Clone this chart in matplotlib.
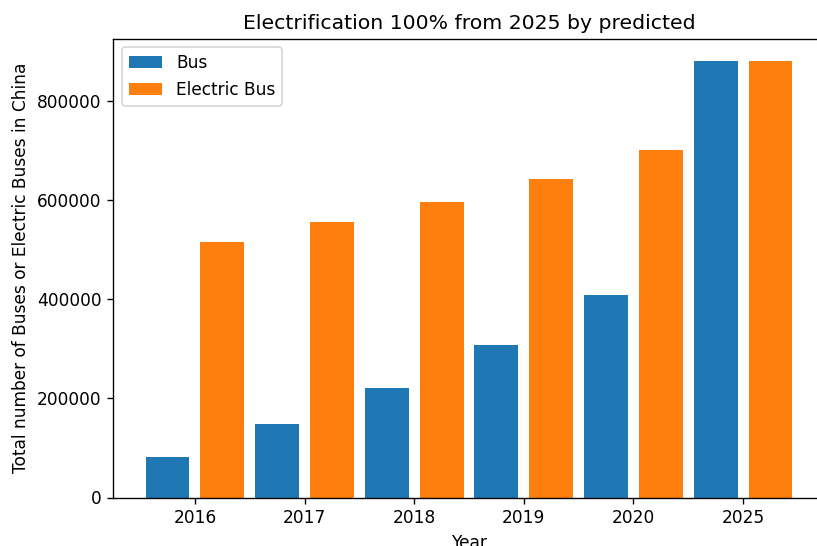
import numpy as np
import matplotlib
matplotlib.use("Agg")
import matplotlib.pyplot as plt

years = ["2016", "2017", "2018", "2019", "2020", "2025"]
bus = [82000, 148000, 221000, 309000, 410000, 882000]
electric_bus = [516000, 556000, 596000, 643000, 701000, 882000]

DPI = 122
W, H = 817, 546
fig = plt.figure(figsize=(W / DPI, H / DPI), dpi=DPI)
ax = fig.add_axes([113.3 / W, (H - 497.5) / H, (824.7 - 113.3) / W, (497.5 - 39) / H])

x = np.arange(len(years))
width = 0.4
ax.bar(x - 0.25, bus, width, label="Bus")
ax.bar(x + 0.25, electric_bus, width, label="Electric Bus")
ax.set_xticks(x)
ax.set_xticklabels(years)
ax.set_xlabel("Year")
ax.set_ylabel("Total number of Buses or Electric Buses in China")
ax.set_title("Electrification 100% from 2025 by predicted")
ax.legend(loc="upper left")
ax.spines["right"].set_visible(False)

fig.savefig("out.png", dpi=DPI)
